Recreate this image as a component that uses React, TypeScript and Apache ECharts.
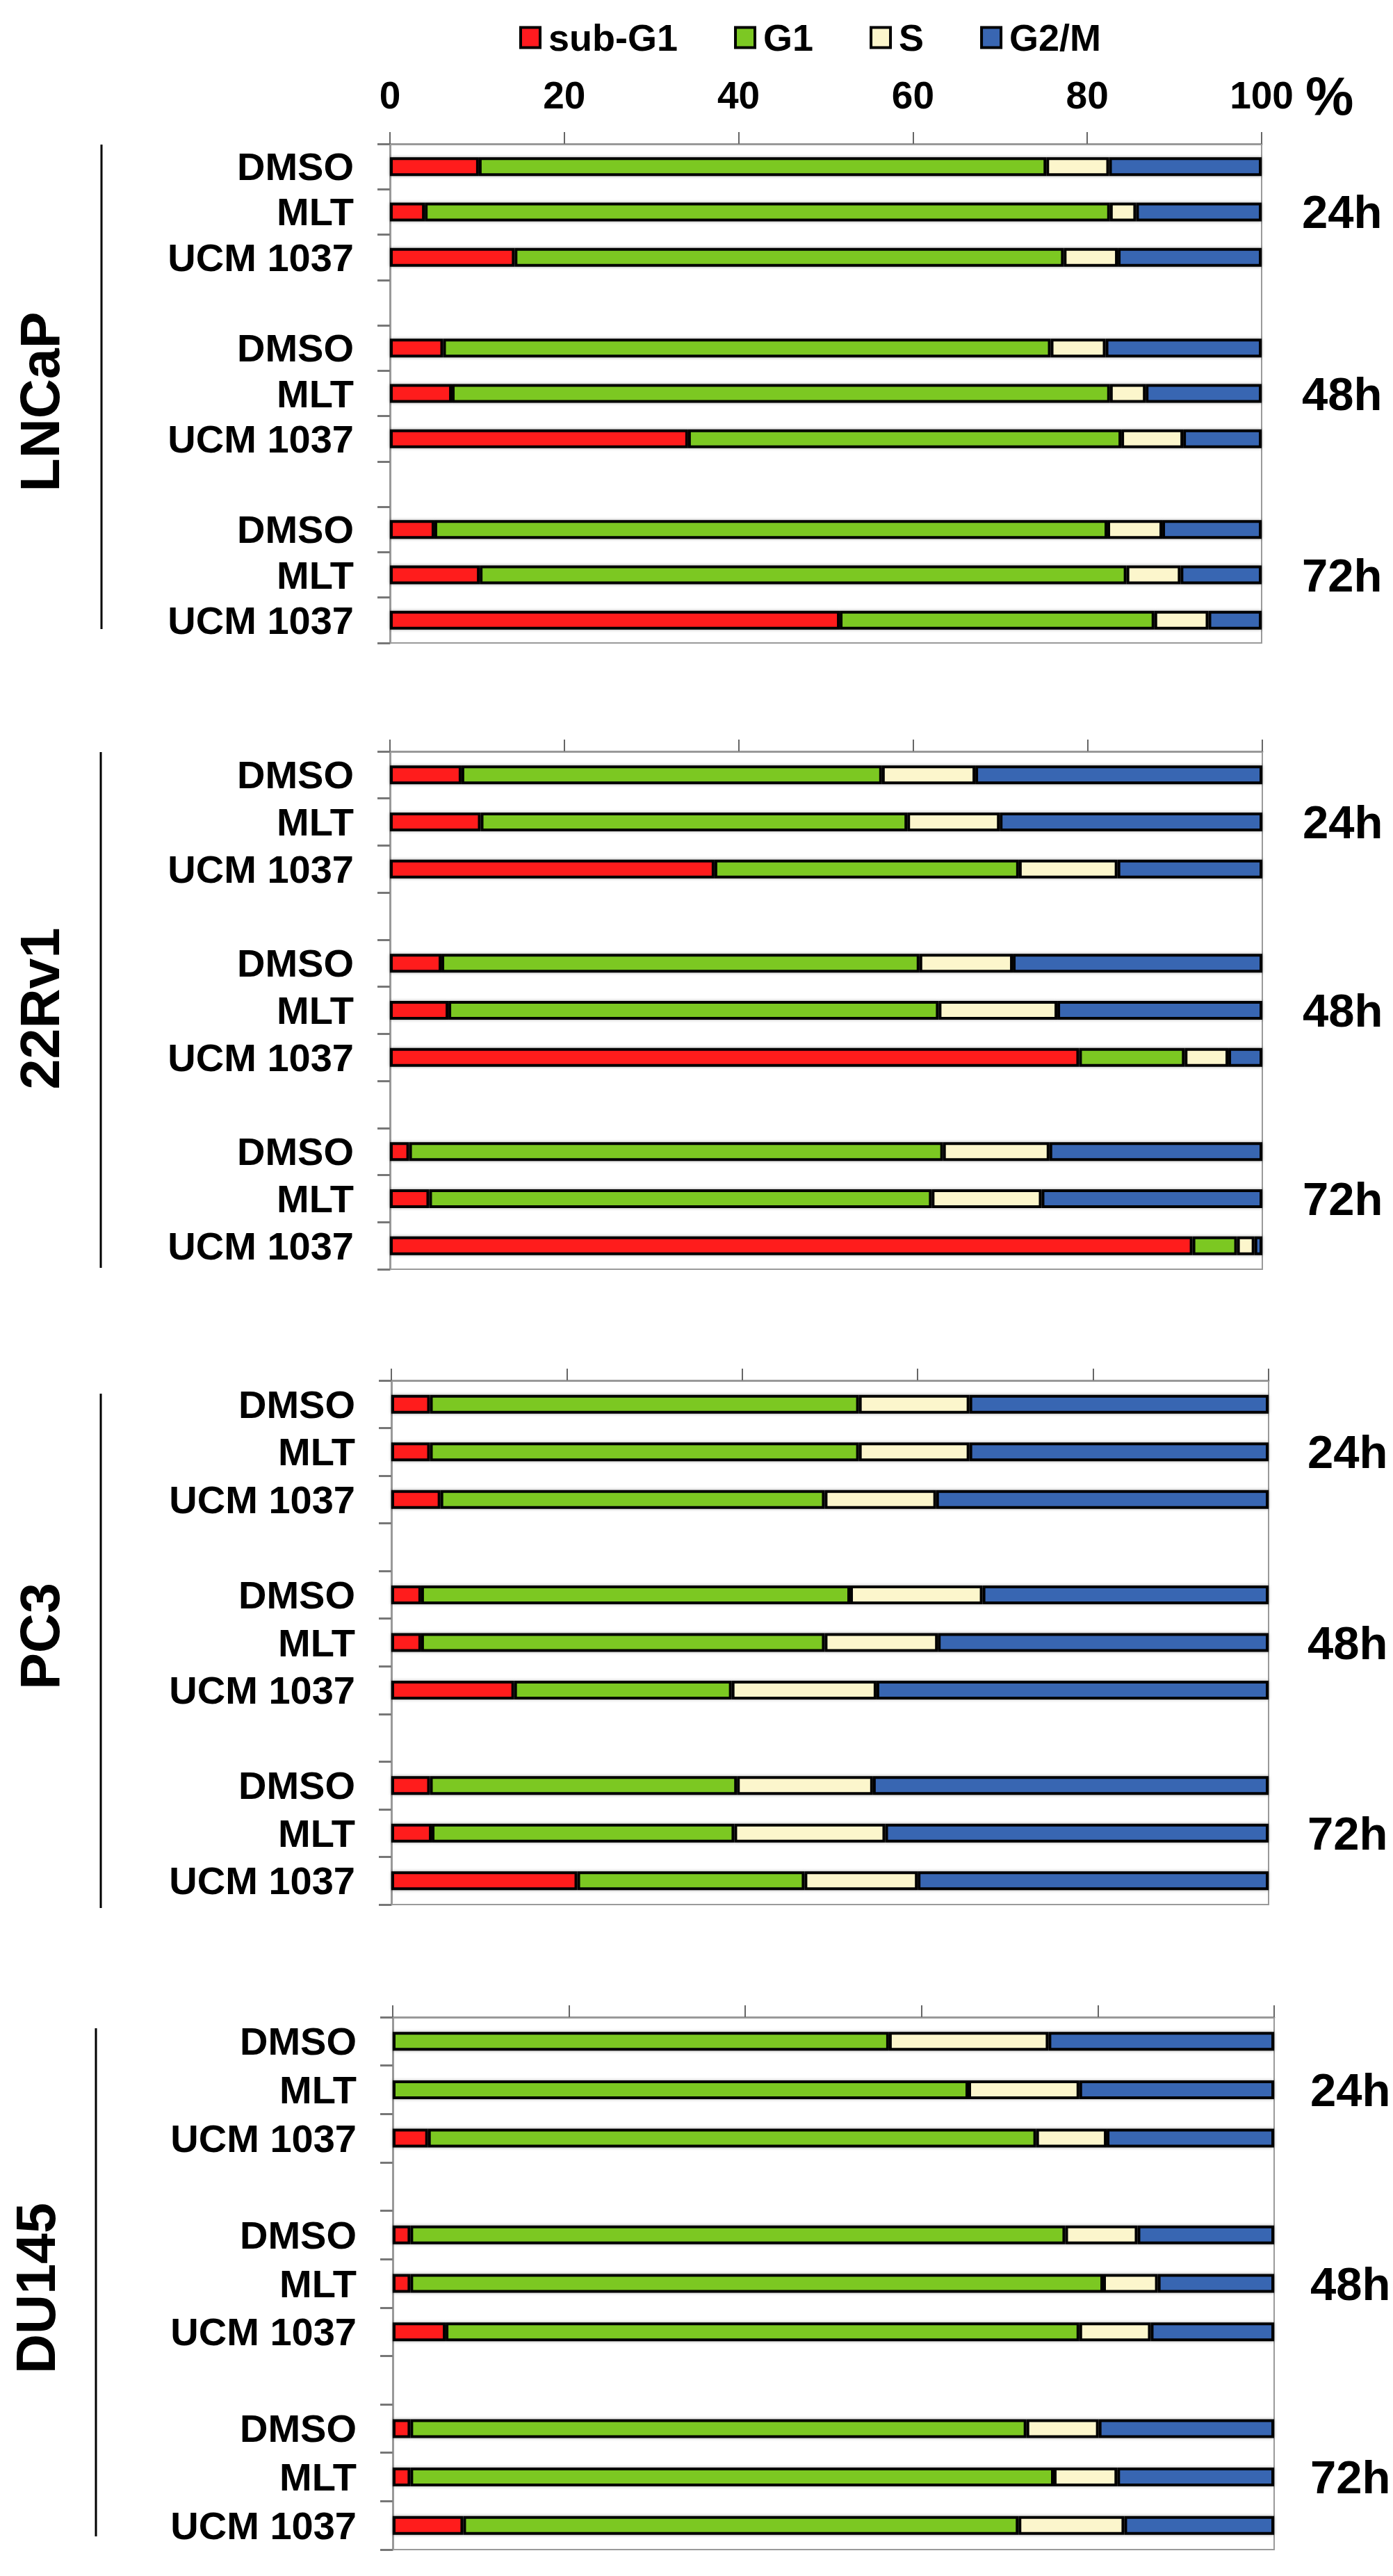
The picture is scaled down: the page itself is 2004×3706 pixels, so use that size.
import React, { useEffect, useRef } from "react";
import * as echarts from "echarts";

// ---------- data ----------
const phases = ["sub-G1", "G1", "S", "G2/M"];
const phaseColors = ["#FF1A1F", "#7CC823", "#FCF6CC", "#3966B2"];
const categories = ["DMSO", "MLT", "UCM 1037", "", "DMSO", "MLT", "UCM 1037", "", "DMSO", "MLT", "UCM 1037"];
const timeLabels = ["", "24h", "", "", "", "48h", "", "", "", "72h", ""];
const cellLines = ["LNCaP", "22Rv1", "PC3", "DU145"];
const xTickValues = { min: 0, max: 100, interval: 20 };

// percentages (null = spacer row between time points)
const lncapSubG1 = [10.2, 4.0, 14.3, null, 6.1, 7.1, 34.2, null, 5.1, 10.3, 51.6];
const lncapG1 = [65.1, 78.6, 63.0, null, 69.7, 75.5, 49.7, null, 77.2, 74.2, 36.1];
const lncapS = [7.2, 3.0, 6.2, null, 6.3, 4.1, 7.1, null, 6.3, 6.2, 6.2];
const lncapG2M = [17.5, 14.4, 16.5, null, 17.9, 13.3, 9.0, null, 11.4, 9.3, 6.1];

const rv1SubG1 = [8.2, 10.4, 37.2, null, 5.9, 6.7, 79.0, null, 2.2, 4.5, 92.0];
const rv1G1 = [48.2, 48.9, 34.9, null, 54.8, 56.2, 12.1, null, 61.2, 57.6, 5.1];
const rv1S = [10.7, 10.6, 11.3, null, 10.7, 13.6, 5.0, null, 12.2, 12.6, 2.0];
const rv1G2M = [32.9, 30.1, 16.6, null, 28.6, 23.5, 3.9, null, 24.4, 25.3, 0.9];

const pc3SubG1 = [4.4, 4.4, 5.6, null, 3.4, 3.4, 14.0, null, 4.4, 4.6, 21.2];
const pc3G1 = [48.9, 48.9, 43.8, null, 48.9, 46.0, 24.8, null, 35.0, 34.5, 25.9];
const pc3S = [12.6, 12.6, 12.7, null, 15.1, 12.9, 16.5, null, 15.5, 17.2, 12.9];
const pc3G2M = [34.1, 34.1, 37.9, null, 32.6, 37.7, 44.7, null, 45.1, 43.7, 40.0];

const du145SubG1 = [0, 0, 4.0, null, 2.0, 2.0, 6.0, null, 2.0, 2.0, 8.0];
const du145G1 = [56.3, 65.3, 69.0, null, 74.3, 78.6, 71.9, null, 69.9, 73.0, 63.0];
const du145S = [18.1, 12.6, 8.0, null, 8.2, 6.2, 8.1, null, 8.2, 7.2, 12.0];
const du145G2M = [25.6, 22.1, 19.0, null, 15.5, 13.2, 14.0, null, 19.9, 17.8, 17.0];

const panelData = [
  [lncapSubG1, lncapG1, lncapS, lncapG2M],
  [rv1SubG1, rv1G1, rv1S, rv1G2M],
  [pc3SubG1, pc3G1, pc3S, pc3G2M],
  [du145SubG1, du145G1, du145S, du145G2M],
];

// ---------- layout ----------
const panelLayout = [
  { left: 561, top: 207, width: 1254, height: 718, labelX: 57, labelY: 578, lineX: 146, lineY1: 208, lineY2: 905, timeMargin: 58 },
  { left: 561, top: 1081, width: 1255, height: 745, labelX: 57, labelY: 1451, lineX: 145, lineY1: 1082, lineY2: 1824, timeMargin: 58 },
  { left: 563, top: 1986, width: 1262, height: 754, labelX: 57, labelY: 2354, lineX: 145, lineY1: 2005, lineY2: 2745, timeMargin: 56 },
  { left: 565, top: 2902, width: 1268, height: 766, labelX: 51, labelY: 3292, lineX: 138, lineY1: 2918, lineY2: 3649, timeMargin: 52 },
];

const FONT = "'Liberation Sans', Arial, sans-serif";

function buildOption() {
  const grid: any[] = [];
  const xAxis: any[] = [];
  const yAxis: any[] = [];
  const series: any[] = [];
  const graphic: any[] = [];

  panelLayout.forEach((p, i) => {
    grid.push({
      left: p.left,
      top: p.top,
      width: p.width,
      height: p.height,
      show: true,
      borderColor: "#9a9a9a",
      borderWidth: 2,
      backgroundColor: "transparent",
      containLabel: false,
    });
    xAxis.push({
      type: "value",
      gridIndex: i,
      position: "top",
      min: xTickValues.min,
      max: xTickValues.max,
      interval: xTickValues.interval,
      axisLine: { show: true, lineStyle: { color: "#999", width: 3 } },
      axisTick: { show: true, inside: false, length: 17, lineStyle: { color: "#666", width: 2 } },
      splitLine: { show: false },
      axisLabel: {
        show: i === 0,
        fontSize: 55,
        fontWeight: "bold",
        color: "#000",
        fontFamily: FONT,
        margin: 43,
      },
    });
    yAxis.push({
      type: "category",
      gridIndex: i,
      inverse: true,
      data: categories,
      position: "left",
      axisLine: { show: true, lineStyle: { color: "#999", width: 3 } },
      axisTick: { show: true, interval: 0, length: 18, alignWithLabel: false, lineStyle: { color: "#777", width: 3 } },
      splitLine: { show: false },
      axisLabel: {
        interval: 0,
        fontSize: 56,
        fontWeight: "bold",
        color: "#000",
        fontFamily: FONT,
        margin: 52,
      },
    });
    yAxis.push({
      type: "category",
      gridIndex: i,
      inverse: true,
      data: timeLabels,
      position: "right",
      axisLine: { show: false },
      axisTick: { show: false },
      splitLine: { show: false },
      axisLabel: {
        interval: 0,
        fontSize: 67,
        fontWeight: "bold",
        color: "#000",
        fontFamily: FONT,
        margin: p.timeMargin,
      },
    });
    phases.forEach((ph, k) => {
      series.push({
        name: ph,
        type: "bar",
        stack: "panel" + i,
        xAxisIndex: i,
        yAxisIndex: i * 2,
        barWidth: 27,
        data: panelData[i][k],
        itemStyle: {
          color: phaseColors[k],
          borderColor: "#000",
          borderWidth: 4,
          shadowBlur: 4,
          shadowColor: "rgba(0,0,0,0.35)",
        },
        emphasis: { disabled: true },
      });
    });
    graphic.push({
      type: "text",
      x: p.labelX,
      y: p.labelY,
      rotation: Math.PI / 2,
      style: {
        text: cellLines[i],
        fill: "#000",
        font: "bold 79px " + FONT,
        textAlign: "center",
        textVerticalAlign: "middle",
      },
    });
    graphic.push({
      type: "line",
      shape: { x1: p.lineX, y1: p.lineY1, x2: p.lineX, y2: p.lineY2 },
      style: { stroke: "#000", lineWidth: 3 },
    });
  });

  graphic.push({
    type: "text",
    x: 1878,
    y: 138,
    style: {
      text: "%",
      fill: "#000",
      font: "bold 78px " + FONT,
      textAlign: "left",
      textVerticalAlign: "middle",
    },
  });

  return {
    animation: false,
    backgroundColor: "#fff",
    textStyle: { fontFamily: FONT },
    legend: {
      data: phases,
      left: 742,
      top: 22,
      icon: "rect",
      itemWidth: 28,
      itemHeight: 29,
      itemGap: 81,
      selectedMode: false,
      itemStyle: { borderColor: "#000", borderWidth: 4, shadowBlur: 0 },
      textStyle: {
        fontSize: 54,
        fontWeight: "bold",
        color: "#000",
        fontFamily: FONT,
        padding: [0, 0, 0, 7],
      },
    },
    grid,
    xAxis,
    yAxis,
    series,
    graphic,
  };
}

export default function App() {
  const ref = useRef<HTMLDivElement>(null);
  useEffect(() => {
    if (!ref.current) return;
    const chart = echarts.init(ref.current, null, { renderer: "svg" });
    chart.setOption(buildOption() as any);
    return () => {
      chart.dispose();
    };
  }, []);
  return (
    <div
      ref={ref}
      style={{ position: "absolute", left: 0, top: 0, width: 2004, height: 3706, background: "#fff" }}
    />
  );
}
